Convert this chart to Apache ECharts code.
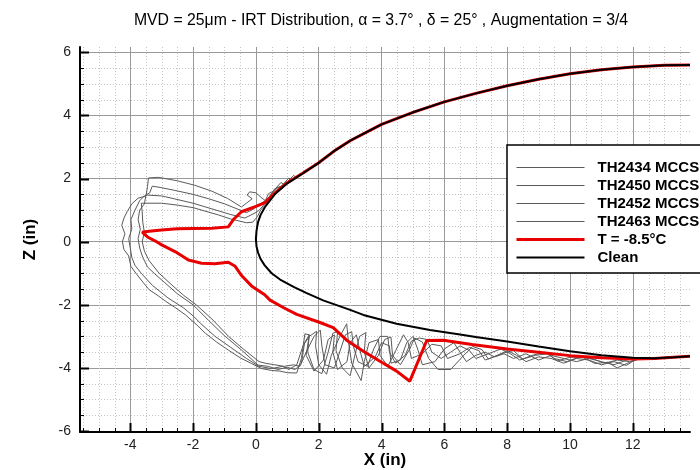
<!DOCTYPE html>
<html><head><meta charset="utf-8">
<script src="https://cdn.jsdelivr.net/npm/echarts@6/dist/echarts.min.js"></script>
<style>html,body{margin:0;padding:0;background:#fff}#c{width:700px;height:470px}</style>
</head><body><div id="c"></div>
<script>
const titleText = 'MVD = 25\u03bcm - IRT Distribution, \u03b1 = 3.7\u00b0 , \u03b4 = 25\u00b0 , Augmentation = 3/4';
const xTicks = [-4, -2, 0, 2, 4, 6, 8, 10, 12];
const yTicks = [-6, -4, -2, 0, 2, 4, 6];
const seriesNames = ['TH2434 MCCS', 'TH2450 MCCS', 'TH2452 MCCS', 'TH2463 MCCS', 'T = -8.5\u00b0C', 'Clean'];

const clean = [[13.82,5.6],[13,5.59],[12,5.54],[11,5.45],[10,5.32],[9,5.15],[8,4.94],[7,4.7],[6,4.43],[5,4.1],[4,3.72],[3,3.2],[2.5,2.88],[2,2.5],[1.5,2.17],[1,1.85],[0.6,1.5],[0.29,1.1],[0.15,0.85],[0.07,0.63],[0.02,0.35],[0,0.08],[0.02,-0.15],[0.07,-0.35],[0.15,-0.55],[0.28,-0.75],[0.5,-1.0],[0.8,-1.22],[1.2,-1.43],[1.6,-1.62],[2.14,-1.86],[3,-2.16],[3.42,-2.32],[4.48,-2.6],[5.54,-2.8],[6.5,-2.94],[7,-3.02],[8,-3.16],[9,-3.32],[10,-3.47],[11,-3.6],[12,-3.68],[12.7,-3.69],[13.3,-3.66],[13.82,-3.63]];

const ice85 = [[13.82,5.6],[13,5.59],[12,5.54],[11,5.45],[10,5.32],[9,5.15],[8,4.94],[7,4.7],[6,4.43],[5,4.1],[4,3.72],[3,3.2],[2.5,2.88],[2,2.5],[1.5,2.18],[1,1.87],[0.6,1.54],[0.29,1.24],[0,1.12],[-0.46,0.95],[-0.7,0.72],[-0.88,0.47],[-1.4,0.43],[-2.0,0.42],[-2.5,0.41],[-3.0,0.37],[-3.4,0.33],[-3.62,0.3],[-3.45,0.15],[-3.2,0.02],[-3.0,-0.1],[-2.56,-0.32],[-2.15,-0.58],[-1.73,-0.68],[-1.31,-0.7],[-0.88,-0.65],[-0.66,-0.78],[-0.45,-1.08],[-0.14,-1.4],[0.28,-1.68],[0.45,-1.85],[0.9,-2.1],[1.3,-2.3],[2.04,-2.56],[2.46,-2.72],[2.89,-3.12],[3.42,-3.47],[3.95,-3.79],[4.48,-4.1],[4.9,-4.42],[5.44,-3.13],[5.97,-3.12],[6.5,-3.2],[6.88,-3.26],[8,-3.4],[9,-3.5],[10,-3.61],[11,-3.68],[12,-3.72],[12.7,-3.7],[13.3,-3.66],[13.82,-3.63]];

const th2434 = [[1.6,2.28],[1.3,2.02],[1.2,2.1],[0.9,1.8],[0.8,1.88],[0.55,1.6],[0.4,1.52],[0.3,1.3],[0.15,1.42],[0,1.55],[-0.2,1.58],[-0.28,1.48],[-0.12,1.36],[-0.3,1.22],[-0.46,1.1],[-0.9,1.37],[-1.4,1.6],[-1.95,1.79],[-2.5,1.93],[-3.1,2.04],[-3.42,2.02],[-3.45,1.75],[-3.5,1.45],[-3.75,1.38],[-3.95,1.2],[-4.1,0.95],[-4.2,0.75],[-4.27,0.52],[-4.17,0.25],[-4.25,0.0],[-4.2,-0.25],[-4.05,-0.45],[-3.98,-0.78],[-3.82,-1.0],[-3.6,-1.28],[-3.4,-1.52],[-3.1,-1.72],[-2.87,-1.89],[-2.55,-2.1],[-2.24,-2.32],[-1.9,-2.62],[-1.61,-2.9],[-1.25,-3.18],[-0.87,-3.44],[-0.5,-3.68],[-0.14,-3.86],[0.18,-4.02],[0.5,-4.08],[0.76,-4.1],[1.0,-4.15],[1.3,-4.16],[1.45,-3.7],[1.56,-2.92],[1.7,-2.95],[1.65,-3.5],[1.85,-4.05],[2.1,-4.18],[2.3,-3.5],[2.45,-2.9],[2.6,-2.85],[2.55,-3.45],[2.75,-4.0],[3.0,-4.25],[3.15,-3.6],[3.3,-3.0],[3.5,-2.88],[3.45,-3.5],[3.6,-4.0],[3.9,-3.6],[4.1,-3.1],[4.3,-3.02],[4.35,-3.6],[4.6,-3.9],[4.9,-3.4],[5.05,-3.05],[5.3,-3.18],[5.5,-3.7],[5.8,-4.05],[6.2,-4.05],[6.6,-3.62],[6.9,-3.32],[7.2,-3.42],[7.4,-3.72],[7.8,-3.55],[8.2,-3.45],[8.5,-3.72],[8.9,-3.6],[9.3,-3.55],[9.6,-3.78],[10.0,-3.66],[10.4,-3.66],[10.8,-3.86],[11.2,-3.82],[11.5,-4.0],[11.9,-3.82],[12.2,-3.72]];

const th2450 = [[1.4,2.15],[1.15,1.95],[1.05,2.02],[0.8,1.75],[0.6,1.68],[0.45,1.45],[0.3,1.3],[0.1,1.18],[-0.05,1.05],[-0.3,0.92],[-1.0,1.2],[-1.5,1.36],[-2.0,1.5],[-2.6,1.63],[-3.05,1.72],[-3.3,1.76],[-3.38,1.55],[-3.55,1.45],[-3.7,1.3],[-3.85,1.0],[-3.98,0.7],[-3.95,0.4],[-4.05,0.1],[-4.0,-0.2],[-3.95,-0.5],[-3.85,-0.75],[-3.65,-1.0],[-3.3,-1.38],[-2.8,-1.78],[-2.3,-2.1],[-2.0,-2.35],[-1.75,-2.6],[-1.3,-3.0],[-0.8,-3.35],[-0.3,-3.7],[0.1,-3.95],[0.5,-4.02],[0.85,-3.95],[1.05,-4.05],[1.3,-3.9],[1.5,-3.3],[1.7,-3.0],[1.93,-2.84],[1.9,-3.3],[2.0,-3.9],[2.25,-4.2],[2.4,-3.6],[2.65,-3.05],[2.89,-2.6],[2.95,-3.2],[3.05,-3.85],[3.35,-4.4],[3.45,-3.8],[3.6,-3.2],[3.9,-3.1],[3.95,-3.6],[4.2,-3.95],[4.45,-3.45],[4.7,-2.95],[4.85,-3.2],[4.95,-3.7],[5.3,-3.55],[5.6,-3.25],[5.9,-3.3],[6.1,-3.7],[6.5,-3.55],[6.8,-3.35],[7.1,-3.45],[7.3,-3.75],[7.7,-3.6],[8.0,-3.45],[8.3,-3.6],[8.6,-3.8],[9.0,-3.65],[9.4,-3.7],[9.8,-3.85],[10.2,-3.7],[10.6,-3.75],[11.0,-3.9],[11.4,-3.8],[11.8,-3.92],[12.1,-3.72]];

const th2452 = [[1.0,1.9],[0.85,1.78],[0.7,1.72],[0.5,1.52],[0.35,1.32],[0.2,1.1],[0.05,0.95],[-0.35,0.75],[-0.8,0.86],[-1.2,0.98],[-2.0,1.22],[-2.6,1.36],[-3.0,1.45],[-3.5,1.48],[-3.55,1.2],[-3.7,1.0],[-3.75,0.7],[-3.68,0.4],[-3.75,0.1],[-3.7,-0.2],[-3.6,-0.5],[-3.45,-0.8],[-3.24,-1.0],[-2.9,-1.3],[-2.5,-1.65],[-2.0,-2.0],[-1.5,-2.5],[-1.0,-2.98],[-0.45,-3.44],[0.07,-3.91],[0.4,-3.95],[0.7,-4.05],[1.0,-3.98],[1.25,-4.05],[1.45,-3.85],[1.55,-3.2],[1.7,-2.95],[1.6,-3.6],[1.85,-4.1],[2.15,-3.75],[2.3,-3.1],[2.5,-2.95],[2.45,-3.5],[2.6,-4.05],[2.9,-3.8],[3.0,-3.2],[3.2,-2.95],[3.3,-3.4],[3.45,-3.95],[3.8,-3.65],[4.0,-3.2],[4.25,-3.3],[4.3,-3.85],[4.6,-3.75],[4.8,-3.2],[5.0,-3.0],[5.15,-3.4],[5.3,-3.9],[5.7,-3.8],[6.0,-3.4],[6.3,-3.2],[6.5,-3.5],[6.7,-3.8],[7.0,-3.6],[7.3,-3.5],[7.6,-3.65],[7.9,-3.55],[8.2,-3.7],[8.6,-3.55],[9.0,-3.75],[9.4,-3.6],[9.8,-3.7],[10.2,-3.8],[10.6,-3.7],[11.0,-3.8],[11.4,-3.9],[11.8,-3.75],[12.1,-3.7]];

const th2463 = [[0.7,1.6],[0.5,1.48],[0.35,1.22],[0.15,1.0],[0.05,0.8],[-0.1,0.62],[-0.3,0.6],[-0.8,0.72],[-1.2,0.85],[-2.0,1.08],[-2.5,1.16],[-3.0,1.22],[-3.65,1.22],[-3.62,0.95],[-3.6,0.6],[-3.55,0.3],[-3.62,0.0],[-3.55,-0.3],[-3.4,-0.6],[-3.08,-1.0],[-2.7,-1.35],[-2.3,-1.7],[-1.9,-2.0],[-1.4,-2.45],[-0.87,-3.0],[-0.4,-3.4],[0.1,-3.8],[0.3,-3.85],[0.6,-3.9],[0.9,-3.95],[1.2,-3.9],[1.4,-3.95],[1.6,-3.5],[1.85,-3.0],[2.05,-2.8],[2.1,-3.3],[2.2,-3.9],[2.5,-4.0],[2.7,-3.4],[2.85,-2.95],[3.05,-2.85],[3.1,-3.3],[3.25,-3.8],[3.55,-3.95],[3.75,-3.4],[3.95,-3.0],[4.2,-3.0],[4.25,-3.5],[4.45,-3.85],[4.75,-3.6],[4.95,-3.15],[5.2,-3.05],[5.45,-3.1],[5.6,-3.5],[5.9,-3.7],[6.2,-3.5],[6.5,-3.3],[6.8,-3.45],[7.0,-3.7],[7.4,-3.55],[7.8,-3.4],[8.1,-3.55],[8.4,-3.75],[8.8,-3.6],[9.2,-3.5],[9.5,-3.7],[9.9,-3.8],[10.3,-3.65],[10.7,-3.7],[11.1,-3.85],[11.5,-3.75],[11.9,-3.8],[12.2,-3.7]];

const XMIN = -5.6, XMAX = 13.82, YMIN = -6.03, YMAX = 6.17;
const FONT = 'Liberation Sans, Arial, Helvetica, sans-serif';
const GRAY = '#5a5a5a', RED = '#e80000';

// decoration items: minor grid lines and axis ticks (kind codes)
const decor = [];
for (let v = -5.5; v <= 13.5; v += 0.5) {
  if (xTicks.indexOf(v) < 0) { decor.push([v, 0]); decor.push([v, 3]); }
  else decor.push([v, 2]);
}
for (let v = -5.5; v <= 6; v += 0.5) {
  if (yTicks.indexOf(v) < 0) { decor.push([v, 1]); decor.push([v, 5]); }
}
yTicks.forEach(v => decor.push([v, 4]));

function pr(a) { return Math.round(a) + 0.5; }
function renderDecor(params, api) {
  const v = api.value(0), k = api.value(1);
  let a, b, shape, style;
  if (k === 0) {
    a = api.coord([v, YMIN]); b = api.coord([v, YMAX]);
    shape = {x1: pr(a[0]), y1: a[1], x2: pr(a[0]), y2: b[1]};
    style = {stroke: '#c4c4c4', lineWidth: 1, lineDash: [1, 2]};
  } else if (k === 1) {
    a = api.coord([XMIN, v]); b = api.coord([XMAX, v]);
    shape = {x1: a[0], y1: pr(a[1]), x2: b[0], y2: pr(a[1])};
    style = {stroke: '#c4c4c4', lineWidth: 1, lineDash: [1, 2]};
  } else if (k === 2 || k === 3) {
    a = api.coord([v, YMIN]);
    const len = k === 2 ? 9 : 4;
    shape = {x1: pr(a[0]), y1: a[1], x2: pr(a[0]), y2: a[1] - len};
    style = {stroke: '#000', lineWidth: k === 2 ? 2 : 1};
  } else {
    a = api.coord([XMIN, v]);
    const len = k === 4 ? 9 : 4;
    shape = {x1: a[0], y1: pr(a[1]), x2: a[0] + len, y2: pr(a[1])};
    style = {stroke: '#000', lineWidth: k === 4 ? 2 : 1};
  }
  return {type: 'line', shape: shape, style: style, silent: true};
}

function lineSeries(name, data, color, width, z) {
  return {name: name, type: 'line', data: data, showSymbol: false, symbol: 'none',
    lineStyle: {color: color, width: width}, itemStyle: {color: color}, z: z,
    animation: false, silent: true, clip: true};
}

const legendWidths = [1.2, 1.2, 1.2, 1.2, 3, 2];

const chart = echarts.init(document.getElementById('c'));
chart.setOption({
  animation: false,
  backgroundColor: '#fff',
  title: {
    text: titleText, left: 376, top: 8, textAlign: 'center',
    textStyle: {fontFamily: FONT, fontSize: 15.8, fontWeight: 'normal', color: '#000'}
  },
  grid: {left: 80, top: 47, right: 10, bottom: 38, containLabel: false, outerBoundsMode: 'none'},
  xAxis: {
    type: 'value', min: XMIN, max: XMAX, splitNumber: 10, minInterval: 2, maxInterval: 2,
    name: 'X (in)', nameLocation: 'middle', nameGap: 20, nameMoveOverlap: false,
    nameTextStyle: {fontFamily: FONT, fontSize: 17, fontWeight: 'bold', color: '#000', verticalAlign: 'top'},
    axisLine: {show: true, onZero: false, lineStyle: {color: '#000', width: 2}},
    axisTick: {show: false},
    axisLabel: {margin: 6, fontFamily: FONT, fontSize: 14, color: '#222',
      formatter: v => (xTicks.indexOf(v) >= 0 ? String(v) : '')},
    splitLine: {show: true, showMinLine: false, showMaxLine: false, lineStyle: {color: '#9a9a9a', width: 1}}
  },
  yAxis: {
    type: 'value', min: YMIN, max: YMAX, splitNumber: 6, minInterval: 2, maxInterval: 2,
    name: 'Z (in)', nameLocation: 'middle', nameGap: 41, nameRotate: 90,
    nameTextStyle: {fontFamily: FONT, fontSize: 17, fontWeight: 'bold', color: '#000'},
    axisLine: {show: true, onZero: false, lineStyle: {color: '#000', width: 2}},
    axisTick: {show: false},
    axisLabel: {margin: 9, fontFamily: FONT, fontSize: 14, color: '#222',
      formatter: v => (yTicks.indexOf(v) >= 0 ? String(v) : '')},
    splitLine: {show: true, showMinLine: false, showMaxLine: false, lineStyle: {color: '#9a9a9a', width: 1}}
  },
  legend: {
    orient: 'vertical', left: 507, top: 145,
    itemWidth: 68, itemHeight: 14, itemGap: 3,
    padding: [15, 14, 8, 8],
    backgroundColor: '#fff', borderColor: '#000', borderWidth: 1.5,
    itemStyle: {opacity: 0},
    textStyle: {fontFamily: FONT, fontWeight: 'bold', fontSize: 15, lineHeight: 15, color: '#000', padding: [0, 0, 0, 8]},
    data: seriesNames.map((n, i) => ({name: n, lineStyle: {width: legendWidths[i]}})),
    z: 20, selectedMode: false
  },
  series: [
    {type: 'custom', name: '_decor', data: decor, renderItem: renderDecor, z: 1, silent: true, animation: false},
    lineSeries(seriesNames[0], th2434, GRAY, 1, 3),
    lineSeries(seriesNames[1], th2450, GRAY, 1, 3),
    lineSeries(seriesNames[2], th2452, GRAY, 1, 3),
    lineSeries(seriesNames[3], th2463, GRAY, 1, 3),
    lineSeries(seriesNames[4], ice85, RED, 3, 4),
    lineSeries(seriesNames[5], clean, '#000000', 2, 5)
  ]
});
</script></body></html>
